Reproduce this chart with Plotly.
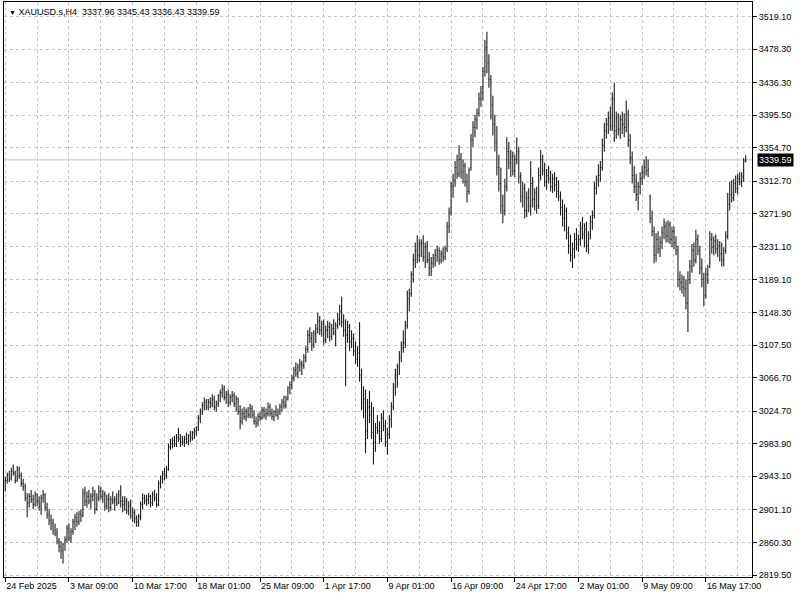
import plotly.graph_objects as go

# ---------------- data (H4 bars, 24 Feb 2025 01:00 -> 22 May 2025 01:00) ----------------
opens = [
    2936,2938,2945,2940,2950,2947, 2938,2952,2944,2934,2930,2916, 2910,2918,2914,2908,2920,2912,
    2905,2916,2920,2904,2895,2888, 2884,2875,2872,2862,2855,2850,
    2862,2864,2878,2866,2874,2886, 2892,2886,2896,2894,2922,2912, 2918,2912,2918,2920,2902,2916,
    2924,2918,2920,2906,2914,2904, 2914,2912,2914,2910,2920,2912,
    2908,2912,2900,2906,2894,2898, 2890,2886,2892,2908,2916,2912, 2914,2918,2910,2920,2916,2908,
    2934,2940,2946,2944,2952,2980, 2984,2988,2984,2992,2990,2986,
    2986,2990,2986,2994,2992,2998, 3000,3004,3016,3024,3032,3036, 3030,3036,3034,3040,3030,3034,
    3044,3048,3052,3042,3046,3036, 3042,3044,3034,3040,3024,3012,
    3022,3018,3024,3020,3028,3020, 3012,3010,3018,3016,3026,3020, 3022,3030,3022,3018,3024,3020,
    3024,3030,3036,3032,3040,3054, 3058,3066,3076,3072,3080,3084,
    3082,3092,3102,3120,3116,3108, 3122,3128,3138,3126,3134,3114, 3126,3130,3118,3128,3124,3132,
    3140,3150,3136,3126,3120,3130, 3112,3116,3100,3090,3098,3070,
    3030,3040,3000,3030,3020,2998, 2986,3004,3000,2990,3016,3006, 2986,2996,3014,3030,3054,3070,
    3080,3092,3104,3110,3132,3166, 3172,3196,3214,3226,3220,3234,
    3236,3218,3230,3214,3204,3210, 3216,3220,3226,3214,3222,3218, 3228,3256,3274,3306,3314,3330,
    3322,3340,3324,3332,3312,3300,
    3330,3364,3380,3390,3398,3416, 3424,3450,3480,3460,3440,3408, 3384,3362,3330,3310,3282,3276,
    3306,3350,3336,3344,3326,3340, 3350,3318,3294,3304,3276,3292,
    3282,3310,3290,3298,3282,3320, 3340,3326,3312,3320,3316,3306, 3316,3308,3300,3294,3280,3266,
    3276,3248,3232,3220,3228,3240, 3234,3240,3254,3246,3252,3232,
    3246,3262,3270,3304,3314,3320, 3330,3358,3376,3384,3392,3382, 3416,3376,3392,3378,3390,3384,
    3380,3396,3364,3342,3320,3306, 3296,3306,3316,3324,3330,3326,
    3294,3266,3250,3220,3240,3228, 3236,3248,3256,3244,3258,3240, 3250,3236,3226,3190,3186,3180,
    3178,3160,3190,3206,3226,3214, 3240,3226,3204,3190,3170,3196,
    3210,3240,3230,3238,3228,3232, 3222,3214,3226,3244,3284,3296, 3292,3310,3304,3316,3312,3318,
    3337.96,
]
highs = [
    2942,2948,2950,2954,2958,2950, 2956,2955,2948,2940,2934,2922, 2922,2926,2920,2924,2922,2918,
    2920,2926,2922,2910,2902,2895, 2890,2884,2878,2866,2862,2860,
    2868,2882,2884,2878,2890,2896, 2898,2900,2902,2928,2930,2924, 2926,2922,2930,2926,2922,2932,
    2930,2926,2924,2920,2922,2918, 2924,2918,2922,2926,2932,2918,
    2918,2916,2912,2914,2904,2902, 2894,2896,2912,2922,2920,2920, 2922,2920,2924,2926,2922,2938,
    2944,2950,2954,2956,2984,2990, 2992,2994,2996,3004,2996,2994,
    2994,2998,2996,3000,3000,3004, 3006,3020,3028,3036,3042,3040, 3040,3042,3046,3044,3038,3046,
    3052,3058,3057,3050,3052,3046, 3050,3048,3044,3042,3032,3028,
    3030,3028,3030,3034,3032,3026, 3018,3022,3024,3030,3030,3028, 3036,3034,3028,3026,3032,3028,
    3034,3040,3044,3044,3056,3062, 3070,3080,3086,3084,3090,3088,
    3096,3106,3126,3130,3124,3126, 3134,3148,3144,3138,3140,3132, 3138,3136,3134,3140,3136,3148,
    3158,3168,3146,3140,3138,3134, 3126,3122,3112,3106,3136,3078,
    3056,3052,3040,3050,3036,3030, 3010,3020,3012,3022,3026,3014, 3004,3020,3036,3060,3078,3084,
    3100,3112,3126,3138,3176,3178, 3200,3222,3236,3245,3240,3240,
    3245,3236,3238,3224,3218,3222, 3228,3232,3230,3226,3230,3232, 3262,3280,3312,3322,3338,3346,
    3358,3348,3340,3336,3322,3330,
    3372,3388,3396,3404,3424,3432, 3456,3490,3500,3472,3446,3420, 3396,3382,3346,3330,3296,3316,
    3368,3362,3352,3350,3346,3368, 3356,3324,3312,3310,3300,3304,
    3338,3318,3304,3306,3330,3352, 3346,3336,3328,3332,3326,3322, 3324,3318,3314,3300,3290,3284,
    3280,3256,3246,3236,3248,3254, 3246,3262,3268,3260,3262,3250,
    3270,3276,3312,3320,3334,3338, 3366,3386,3392,3400,3406,3424, 3436,3400,3398,3396,3400,3398,
    3414,3402,3372,3350,3332,3322, 3312,3324,3332,3340,3344,3340,
    3296,3276,3256,3248,3250,3244, 3256,3266,3262,3264,3262,3256, 3256,3244,3232,3200,3196,3194,
    3190,3200,3214,3234,3236,3252, 3246,3232,3216,3198,3204,3208,
    3250,3248,3244,3246,3240,3238, 3236,3230,3250,3298,3312,3314, 3316,3320,3322,3324,3324,3342,
    3345.43,
]
lows = [
    2924,2934,2936,2938,2944,2934, 2936,2940,2930,2925,2912,2892, 2904,2910,2902,2905,2906,2900,
    2895,2910,2900,2890,2882,2876, 2870,2868,2858,2848,2840,2834,
    2850,2860,2862,2860,2870,2876, 2880,2882,2886,2892,2906,2904, 2908,2902,2912,2896,2900,2912,
    2914,2910,2900,2902,2898,2900, 2908,2900,2906,2908,2904,2898,
    2900,2896,2894,2890,2886,2884, 2880,2880,2888,2902,2908,2906, 2908,2904,2906,2912,2904,2906,
    2928,2934,2938,2940,2950,2976, 2978,2980,2980,2986,2980,2982,
    2980,2984,2982,2986,2988,2990, 2994,3000,3010,3020,3026,3026, 3026,3028,3030,3026,3024,3030,
    3036,3042,3038,3034,3030,3032, 3036,3030,3024,3020,3002,3008,
    3014,3012,3016,3016,3016,3008, 3004,3006,3012,3014,3016,3014, 3018,3018,3014,3012,3018,3014,
    3020,3024,3028,3028,3038,3046, 3052,3062,3068,3066,3074,3070,
    3078,3086,3098,3110,3100,3104, 3110,3122,3120,3118,3108,3110, 3116,3112,3114,3120,3106,3128,
    3132,3130,3118,3056,3110,3100, 3104,3094,3084,3080,3062,3026,
    3016,2972,2990,3010,2990,2958, 2974,2996,2984,2986,3000,2980, 2970,2990,3004,3026,3044,3054,
    3070,3086,3098,3104,3128,3150, 3168,3186,3204,3210,3212,3218,
    3212,3204,3210,3194,3194,3204, 3206,3212,3208,3210,3212,3214, 3224,3248,3270,3292,3306,3316,
    3318,3316,3310,3306,3286,3296,
    3326,3356,3368,3378,3394,3406, 3414,3444,3448,3430,3390,3370, 3350,3320,3300,3272,3260,3270,
    3300,3328,3318,3320,3318,3334, 3310,3286,3280,3266,3268,3274,
    3270,3280,3276,3272,3278,3314, 3320,3306,3302,3310,3300,3298, 3300,3292,3288,3270,3256,3250,
    3240,3222,3212,3204,3216,3226, 3224,3232,3240,3230,3224,3222,
    3240,3252,3266,3296,3306,3312, 3326,3350,3366,3372,3376,3376, 3362,3366,3370,3366,3372,3368,
    3374,3356,3334,3310,3298,3288, 3276,3296,3308,3316,3320,3318,
    3260,3244,3210,3212,3222,3218, 3228,3240,3236,3236,3234,3230, 3228,3220,3180,3176,3172,3168,
    3152,3124,3184,3198,3206,3210, 3220,3196,3180,3156,3166,3184,
    3204,3222,3220,3222,3218,3212, 3206,3206,3222,3240,3276,3286, 3288,3298,3296,3308,3306,3312,
    3336.43,
]
closes = [
    2938,2945,2940,2950,2947,2938, 2952,2944,2934,2930,2916,2910, 2918,2914,2908,2920,2912,2905,
    2916,2920,2904,2895,2888,2884, 2875,2872,2862,2855,2850,2858,
    2864,2878,2866,2874,2886,2892, 2886,2896,2894,2922,2912,2918, 2912,2918,2920,2902,2916,2924,
    2918,2920,2906,2914,2904,2914, 2912,2914,2910,2920,2912,2908,
    2912,2900,2906,2894,2898,2890, 2886,2892,2908,2916,2912,2914, 2918,2910,2920,2916,2908,2934,
    2940,2946,2944,2952,2980,2984, 2988,2984,2992,2990,2986,2986,
    2990,2986,2994,2992,2998,3000, 3004,3016,3024,3032,3036,3030, 3036,3034,3040,3030,3034,3044,
    3048,3052,3042,3046,3036,3042, 3044,3034,3040,3024,3012,3022,
    3018,3024,3020,3028,3020,3012, 3010,3018,3016,3026,3020,3022, 3030,3022,3018,3024,3020,3024,
    3030,3036,3032,3040,3054,3058, 3066,3076,3072,3080,3084,3082,
    3092,3102,3120,3116,3108,3122, 3128,3138,3126,3134,3114,3126, 3130,3118,3128,3124,3132,3140,
    3150,3136,3126,3120,3130,3112, 3116,3100,3090,3098,3070,3036,
    3040,3000,3030,3020,2998,2986, 3004,3000,2990,3016,3006,2986, 2996,3014,3030,3054,3070,3080,
    3092,3104,3110,3132,3166,3172, 3196,3214,3226,3220,3234,3236,
    3218,3230,3214,3204,3210,3216, 3220,3226,3214,3222,3218,3228, 3256,3274,3306,3314,3330,3322,
    3340,3324,3332,3312,3300,3326,
    3364,3380,3390,3398,3416,3424, 3450,3480,3460,3440,3408,3384, 3362,3330,3310,3282,3276,3306,
    3350,3336,3344,3326,3340,3350, 3318,3294,3304,3276,3292,3282,
    3310,3290,3298,3282,3320,3340, 3326,3312,3320,3316,3306,3316, 3308,3300,3294,3280,3266,3276,
    3248,3232,3220,3228,3240,3234, 3240,3254,3246,3252,3232,3240,
    3262,3270,3304,3314,3320,3330, 3358,3376,3384,3392,3382,3416, 3376,3392,3378,3390,3384,3380,
    3396,3364,3342,3320,3306,3296, 3306,3316,3324,3330,3326,3328,
    3266,3250,3220,3240,3228,3236, 3248,3256,3244,3258,3240,3250, 3236,3226,3190,3186,3180,3178,
    3160,3190,3206,3226,3214,3240, 3226,3204,3190,3170,3196,3188,
    3240,3230,3238,3228,3232,3222, 3214,3226,3244,3284,3296,3292, 3310,3304,3316,3312,3318,3338,
    3339.59,
]

# time-axis labels (bar index -> label), one every 32 bars
x_tick_index = [0, 32, 64, 96, 128, 160, 192, 224, 256, 288, 320, 352]
x_tick_text = ["24 Feb 2025", "3 Mar 09:00", "10 Mar 17:00", "18 Mar 01:00", "25 Mar 09:00",
               "1 Apr 17:00", "9 Apr 01:00", "16 Apr 09:00", "24 Apr 17:00", "2 May 01:00",
               "9 May 09:00", "16 May 17:00"]

# price-axis labels
y_ticks = [3519.10, 3478.30, 3436.30, 3395.50, 3354.70, 3312.70, 3271.90, 3231.10, 3189.10,
           3148.30, 3107.50, 3066.70, 3024.70, 2983.90, 2943.10, 2901.10, 2860.30, 2819.50]

symbol = "XAUUSD.s,H4"
last_price = 3339.59

# ---------------- figure ----------------
bar_index = list(range(len(closes)))
bar_color = "#1e1e1e"
grid_color = "#c4c4c4"
font_family = "Liberation Sans, Arial, sans-serif"

fig = go.Figure()
fig.add_trace(go.Ohlc(
    x=bar_index, open=opens, high=highs, low=lows, close=closes,
    increasing=dict(line=dict(color=bar_color, width=1.1)),
    decreasing=dict(line=dict(color=bar_color, width=1.1)),
    tickwidth=0.4, hoverinfo="skip", showlegend=False,
))

# current price line
fig.add_shape(type="line", xref="paper", x0=0, x1=1, yref="y", y0=last_price, y1=last_price,
              line=dict(color="#c0c0c0", width=1), layer="below")

# current price label on the price scale
fig.add_annotation(xref="paper", x=1, xanchor="left", xshift=5, yref="y", y=last_price,
                   text=f"{last_price:.2f}", showarrow=False,
                   font=dict(family=font_family, size=9, color="white"),
                   bgcolor="black", borderpad=1)

# chart caption
o, h, l, c = opens[-1], highs[-1], lows[-1], closes[-1]
fig.add_annotation(xref="paper", x=0, xanchor="left", xshift=3, yref="paper", y=1,
                   yanchor="top", yshift=-3, showarrow=False,
                   text=f"<span style='font-size:7px'>▼</span> {symbol}  {o:.2f} {h:.2f} {l:.2f} {c:.2f}",
                   font=dict(family=font_family, size=9, color="black"))

fig.update_layout(
    width=800, height=599,
    margin=dict(l=4, r=48, t=2, b=22),
    paper_bgcolor="white", plot_bgcolor="white",
    font=dict(family=font_family, size=9, color="black"),
    showlegend=False,
)
fig.update_xaxes(
    range=[-0.65, 375.2], rangeslider=dict(visible=False),
    tickvals=x_tick_index, ticktext=x_tick_text, ticklabelposition="outside right",
    ticks="outside", ticklen=4, tickcolor="black",
    showgrid=True, gridcolor=grid_color, griddash="3px,3px", gridwidth=1,
    minor=dict(tick0=0, dtick=16, showgrid=True, gridcolor=grid_color, griddash="3px,3px", ticks=""),
    showline=True, linecolor="black", linewidth=1, mirror=True, zeroline=False,
    fixedrange=True,
)
fig.update_yaxes(
    side="right", range=[2817.0, 3537.3],
    tickvals=y_ticks, ticktext=[f"{v:.2f}" for v in y_ticks],
    ticks="outside", ticklen=4, tickcolor="black",
    showgrid=True, gridcolor=grid_color, griddash="3px,3px", gridwidth=1,
    showline=True, linecolor="black", linewidth=1, mirror=True, zeroline=False,
    fixedrange=True,
)

fig.write_html("out.html", config={"displayModeBar": False},
               post_script="document.body.style.margin='0';")
